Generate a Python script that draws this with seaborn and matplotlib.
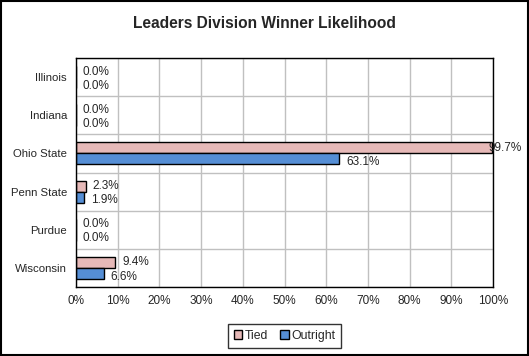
import numpy as np
import pandas as pd
import matplotlib
matplotlib.use("Agg")
import matplotlib.pyplot as plt
import seaborn as sns
from matplotlib.ticker import FixedLocator

TEAMS = ["Illinois", "Indiana", "Ohio State", "Penn State", "Purdue", "Wisconsin"]
TIED = [0.0, 0.0, 99.7, 2.3, 0.0, 9.4]
OUTRIGHT = [0.0, 0.0, 63.1, 1.9, 0.0, 6.6]
SERIES = ["Tied", "Outright"]
COLORS = ["#E6B9B8", "#558ED5"]
XTICKS = list(range(0, 101, 10))

data = pd.DataFrame({"team": TEAMS, "Tied": TIED, "Outright": OUTRIGHT})
data = pd.melt(data, id_vars="team", var_name="kind", value_name="pct")

sns.set_style("white")
plt.rcParams["font.family"] = ["Liberation Sans", "DejaVu Sans"]

fig = plt.figure(figsize=(5.29, 3.56), dpi=100)
ax = fig.add_axes([76 / 529, 1 - 287 / 356, (493 - 76) / 529, (287 - 58) / 356])

sns.barplot(data=data, y="team", x="pct", hue="kind", order=TEAMS, hue_order=SERIES,
            palette=COLORS, saturation=1, orient="h", width=0.58, edgecolor="black",
            linewidth=1, ax=ax, legend=True)

# value labels; labels that would run past the plot area are pulled back to the edge
for i, container in enumerate(ax.containers):
    dy = 0 if i == 0 else -2.2
    for bar, v in zip(container.patches, container.datavalues):
        y = bar.get_y() + bar.get_height() / 2
        dx = 5 if v < 95 else -2
        ax.annotate(f"{v:.1f}%", xy=(v, y), xytext=(dx, dy), textcoords="offset points",
                    ha="left", va="center", fontsize=8.5, annotation_clip=False)

ax.set_xlim(0, 100)
ax.set_ylim(len(TEAMS) - 0.5, -0.5)
ax.set_xticks(XTICKS)
ax.set_xticklabels([f"{t}%" for t in XTICKS], fontsize=8.5)
ax.tick_params(axis="y", which="major", length=0, labelsize=8.2, pad=6.5)
ax.yaxis.set_minor_locator(FixedLocator(np.arange(-0.5, len(TEAMS), 1)))
ax.tick_params(axis="y", which="minor", length=4, color="black", direction="out")
ax.tick_params(axis="x", length=4, color="black", direction="out", pad=2)
ax.grid(axis="x", color="#C0C0C0", linewidth=1)
ax.grid(axis="y", which="minor", color="#C0C0C0", linewidth=1)
ax.set_axisbelow(True)
ax.set_xlabel("")
ax.set_ylabel("")
for s in ax.spines.values():
    s.set_color("black")
    s.set_linewidth(1)

leg = ax.legend(loc="center", bbox_to_anchor=(0.5, -0.214), ncol=2, frameon=True,
                fancybox=False, edgecolor="black", fontsize=8.8, handlelength=0.7,
                handleheight=0.7, handletextpad=0.2, columnspacing=1.0, borderpad=0.5)
leg.get_frame().set_linewidth(1)

fig.text(0.5, 1 - 24 / 356, "Leaders Division Winner Likelihood", ha="center", va="center",
         fontsize=11.2, fontweight="bold")

fig.patches.append(plt.Rectangle((0.001, 0.002), 0.997, 0.996, transform=fig.transFigure,
                                 fill=False, edgecolor="black", linewidth=1.5))

fig.savefig("out.png", dpi=100)
